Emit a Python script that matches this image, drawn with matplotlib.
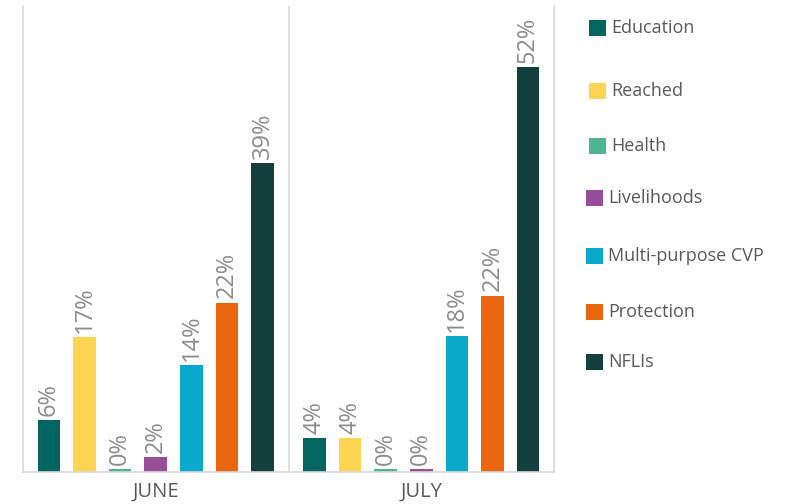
import numpy as np
import matplotlib.pyplot as plt
from matplotlib.patches import Rectangle

plt.rcParams['font.family'] = ['Open Sans', 'DejaVu Sans']

months = ['JUNE', 'JULY']
sectors = ['Education', 'Reached', 'Health', 'Livelihoods',
           'Multi-purpose CVP', 'Protection', 'NFLIs']
colors = ['#02655F', '#FFD453', '#4DB691', '#974E96',
          '#0AA9CC', '#EA670F', '#133F3C']

june = [6.7, 17.3, 0.4, 1.9, 13.7, 21.7, 39.6]
july = [4.3, 4.3, 0.4, 0.4, 17.4, 22.6, 51.9]
june_lbl = ['6%', '17%', '0%', '2%', '14%', '22%', '39%']
july_lbl = ['4%', '4%', '0%', '0%', '18%', '22%', '52%']

fig = plt.figure(figsize=(7.94, 5.04), dpi=100)
ax = fig.add_axes([23/794, 32/504, 531/794, 466/504])

step = 0.134
width = 0.085
offsets = (np.arange(len(sectors)) - 3) * step

for g, (vals, lbls) in enumerate([(june, june_lbl), (july, july_lbl)]):
    for i in range(len(sectors)):
        x = g + offsets[i]
        ax.bar(x, vals[i], width=width, color=colors[i])
        ax.annotate(lbls[i], (x, vals[i]), xytext=(0, 3), textcoords='offset points',
                    rotation=90, ha='center', va='bottom', fontsize=17,
                    color='#8c8c8c')

ax.set_xlim(-0.5, 1.5)
ax.set_ylim(0, 59.7)
ax.axvline(0.5, color='#d9d9d9', lw=1.2)
ax.set_xticks([0, 1])
ax.set_xticklabels(months, fontsize=14.5, color='#595959')
ax.tick_params(axis='x', length=0, pad=7)
ax.set_yticks([])
ax.spines['top'].set_visible(False)
for s in ['left', 'right', 'bottom']:
    ax.spines[s].set_color('#d9d9d9')
    ax.spines[s].set_linewidth(1.2)

# legend entries, placed one by one like the original
leg_y = [28, 91, 146, 198, 256, 312, 362]
leg_x = [589, 589, 589, 586, 586, 586, 586]
for i, name in enumerate(sectors):
    yc = 504 - leg_y[i]
    fig.add_artist(Rectangle(((leg_x[i]) / 794, (yc - 8) / 504), 17/794, 16/504,
                             transform=fig.transFigure, color=colors[i], lw=0))
    fig.text((leg_x[i] + 22) / 794, yc / 504, name, fontsize=13,
             color='#595959', va='center', ha='left')

fig.savefig('out.png', dpi=100)
